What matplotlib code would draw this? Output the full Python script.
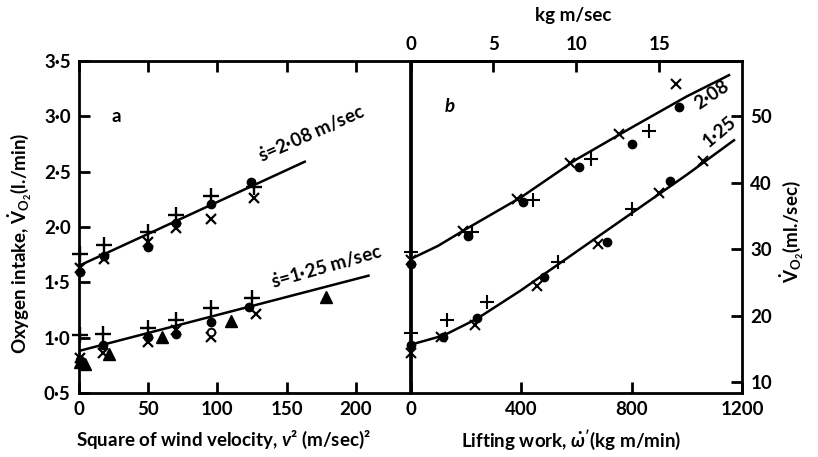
import numpy as np
import matplotlib
matplotlib.use("Agg")
import matplotlib.pyplot as plt

plt.rcParams['font.family'] = ['Lato', 'DejaVu Sans']
plt.rcParams['font.weight'] = 'bold'
plt.rcParams['mathtext.fontset'] = 'custom'
plt.rcParams['mathtext.rm'] = 'Lato:bold'
plt.rcParams['mathtext.it'] = 'Lato:bold:italic'
plt.rcParams['mathtext.bf'] = 'Lato:bold'

# panel a: oxygen intake (l./min) vs square of wind velocity (m/sec)^2
# s = 2.08 m/sec
a208_plus_x = [0.7, 18, 50, 70, 95, 126]
a208_plus_y = [1.76, 1.84, 1.955, 2.11, 2.28, 2.36]
a208_dot_x = [0.7, 18, 50, 70, 95, 124]
a208_dot_y = [1.59, 1.74, 1.82, 2.04, 2.21, 2.41]
a208_cross_x = [0.7, 18, 50, 70, 95, 126]
a208_cross_y = [1.63, 1.71, 1.86, 1.99, 2.07, 2.26]
a208_fit_x = [0, 163]
a208_fit_y = [1.65, 2.59]
# s = 1.25 m/sec
a125_plus_x = [0.7, 17, 50, 70, 95, 125]
a125_plus_y = [1.02, 1.03, 1.09, 1.16, 1.27, 1.36]
a125_dot_x = [0.7, 17, 50, 70, 95, 123]
a125_dot_y = [0.80, 0.93, 1.01, 1.03, 1.14, 1.28]
a125_cross_x = [0.7, 17, 50, 70, 95, 128]
a125_cross_y = [0.82, 0.86, 0.96, 1.07, 1.01, 1.21]
a125_open_x = [95]
a125_open_y = [1.05]
a125_tri_x = [0.7, 4, 22, 60, 110, 178]
a125_tri_y = [0.78, 0.76, 0.85, 1.01, 1.15, 1.37]
a125_fit_x = [0, 209]
a125_fit_y = [0.88, 1.56]

# panel b: oxygen intake (ml./sec) vs lifting work (kg m/min)
b208_plus_w = [0, 222, 444, 654, 862]
b208_plus_v = [29.5, 32.6, 37.4, 43.5, 47.8]
b208_dot_w = [0, 207, 407, 611, 803, 971]
b208_dot_v = [27.8, 32.0, 37.1, 42.4, 45.8, 51.4]
b208_cross_w = [0, 189, 385, 578, 756, 960]
b208_cross_v = [28.3, 32.7, 37.6, 43.0, 47.3, 54.8]
b208_fit_w = [0, 100, 200, 400, 600, 800, 1000, 1153]
b208_fit_v = [28.5, 30.5, 33.0, 37.8, 43.5, 48.3, 53.0, 56.2]

b125_plus_w = [0, 131, 276, 535, 800]
b125_plus_v = [17.4, 19.3, 22.0, 28.0, 36.1]
b125_dot_w = [0, 116, 240, 484, 713, 938]
b125_dot_v = [15.6, 16.8, 19.7, 25.8, 31.0, 40.3]
b125_cross_w = [0, 109, 233, 458, 680, 898, 1058]
b125_cross_v = [14.4, 16.7, 18.6, 24.4, 30.8, 38.4, 43.2]
b125_fit_w = [0, 120, 240, 400, 600, 800, 1000, 1171]
b125_fit_v = [15.6, 17.0, 19.5, 23.8, 29.6, 35.4, 41.2, 46.4]

a_xticks = [0, 50, 100, 150, 200]
a_yticks = [0.5, 1.0, 1.5, 2.0, 2.5, 3.0, 3.5]
a_ylabels = ['0·5', '1·0', '1·5', '2·0', '2·5', '3·0', '3·5']
b_xticks = [0, 400, 800, 1200]
b_yticks = [10, 20, 30, 40, 50]
b_topticks = [0, 5, 10, 15]

W, H = 818, 457
fig = plt.figure(figsize=(W / 100, H / 100), dpi=100)
bot, top = 393, 61
ax1 = fig.add_axes([79 / W, (H - bot) / H, (410 - 79) / W, (bot - top) / H])
ax2 = fig.add_axes([410.5 / W, (H - bot) / H, (742 - 410.5) / W, (bot - top) / H])

fs = 13.5
k = 'black'
mk = dict(linestyle='none', color=k, clip_on=False, zorder=3)

# panel a
ax1.plot(a208_fit_x, a208_fit_y, color=k, lw=1.8)
ax1.plot(a125_fit_x, a125_fit_y, color=k, lw=1.8)
for xs, ys in [(a208_plus_x, a208_plus_y), (a125_plus_x, a125_plus_y)]:
    ax1.plot(xs, ys, marker='+', ms=11, mew=1.7, **mk)
for xs, ys in [(a208_cross_x, a208_cross_y), (a125_cross_x, a125_cross_y)]:
    ax1.plot(xs, ys, marker='x', ms=7.5, mew=1.6, **mk)
for xs, ys in [(a208_dot_x, a208_dot_y), (a125_dot_x, a125_dot_y)]:
    ax1.plot(xs, ys, marker='o', ms=6, **mk)
ax1.plot(a125_open_x, a125_open_y, marker='o', ms=5.5, mfc='white', mew=1.4, **mk)
ax1.plot(a125_tri_x, a125_tri_y, marker='^', ms=8.5, **mk)

ax1.set_xlim(0, 239)
ax1.set_ylim(0.5, 3.5)
ax1.set_xticks(a_xticks)
ax1.set_yticks(a_yticks)
ax1.set_yticklabels(a_ylabels)
ax1.tick_params(direction='in', length=8, width=2, labelsize=fs, pad=6,
                top=True, right=False)
ax1.text(27, 3.0, 'a', fontsize=fs, fontweight='bold', ha='center', va='center')
ax1.text(133, 2.55, r'$\dot{\mathrm{s}}$=2·08 m/sec', fontsize=fs, rotation=24,
         rotation_mode='anchor', ha='left', va='bottom')
ax1.text(141, 1.41, r'$\dot{\mathrm{s}}$=1·25 m/sec', fontsize=fs, rotation=16,
         rotation_mode='anchor', ha='left', va='bottom')

# panel b
ax2.plot(b208_fit_w, b208_fit_v, color=k, lw=1.8)
ax2.plot(b125_fit_w, b125_fit_v, color=k, lw=1.8)
for ws, vs in [(b208_plus_w, b208_plus_v), (b125_plus_w, b125_plus_v)]:
    ax2.plot(ws, vs, marker='+', ms=10, mew=1.5, **mk)
for ws, vs in [(b208_cross_w, b208_cross_v), (b125_cross_w, b125_cross_v)]:
    ax2.plot(ws, vs, marker='x', ms=7.5, mew=1.5, **mk)
for ws, vs in [(b208_dot_w, b208_dot_v), (b125_dot_w, b125_dot_v)]:
    ax2.plot(ws, vs, marker='o', ms=6, **mk)

ax2.set_xlim(0, 1200)
ax2.set_ylim(25 / 3, 175 / 3)
ax2.set_xticks(b_xticks)
ax2.yaxis.tick_right()
ax2.set_yticks(b_yticks)
ax2.tick_params(direction='in', length=8, width=2, labelsize=fs, pad=6,
                left=False, right=True, top=False)
ax2.text(142, 51.5, 'b', fontsize=fs, fontweight='bold', fontstyle='italic',
         ha='center', va='center')
ax2.text(1050, 50.6, '2·08', fontsize=fs, rotation=34,
         rotation_mode='anchor', ha='left', va='bottom')
ax2.text(1085, 44.9, '1·25', fontsize=fs, rotation=40,
         rotation_mode='anchor', ha='left', va='bottom')

sec = ax2.secondary_xaxis('top', functions=(lambda w: w / 60, lambda s: s * 60))
sec.set_xticks(b_topticks)
sec.tick_params(direction='in', length=8, width=2, labelsize=fs, pad=6)
sec.spines['top'].set_linewidth(2)

for ax in (ax1, ax2):
    for s in ax.spines.values():
        s.set_linewidth(2)

fig.text(223 / W, 1 - 440 / H, r'Square of wind velocity, $\mathit{v}$² (m/sec)²',
         fontsize=fs, ha='center', va='center')
fig.text(571 / W, 1 - 440 / H, r"Lifting work, $\dot{\omega}'$(kg m/min)",
         fontsize=fs, ha='center', va='center')
fig.text(573 / W, 1 - 16 / H, 'kg m/sec', fontsize=fs, ha='center', va='center')
fig.text(20 / W, 1 - 243 / H, r'Oxygen intake, $\dot{\mathrm{V}}_{\mathrm{O_2}}$(l./min)',
         fontsize=fs, rotation=90, ha='center', va='center')
fig.text(792 / W, 1 - 232 / H, r'$\dot{\mathrm{V}}_{\mathrm{O_2}}$(ml./sec)',
         fontsize=fs, rotation=90, ha='center', va='center')

fig.savefig('out.png', dpi=100)
